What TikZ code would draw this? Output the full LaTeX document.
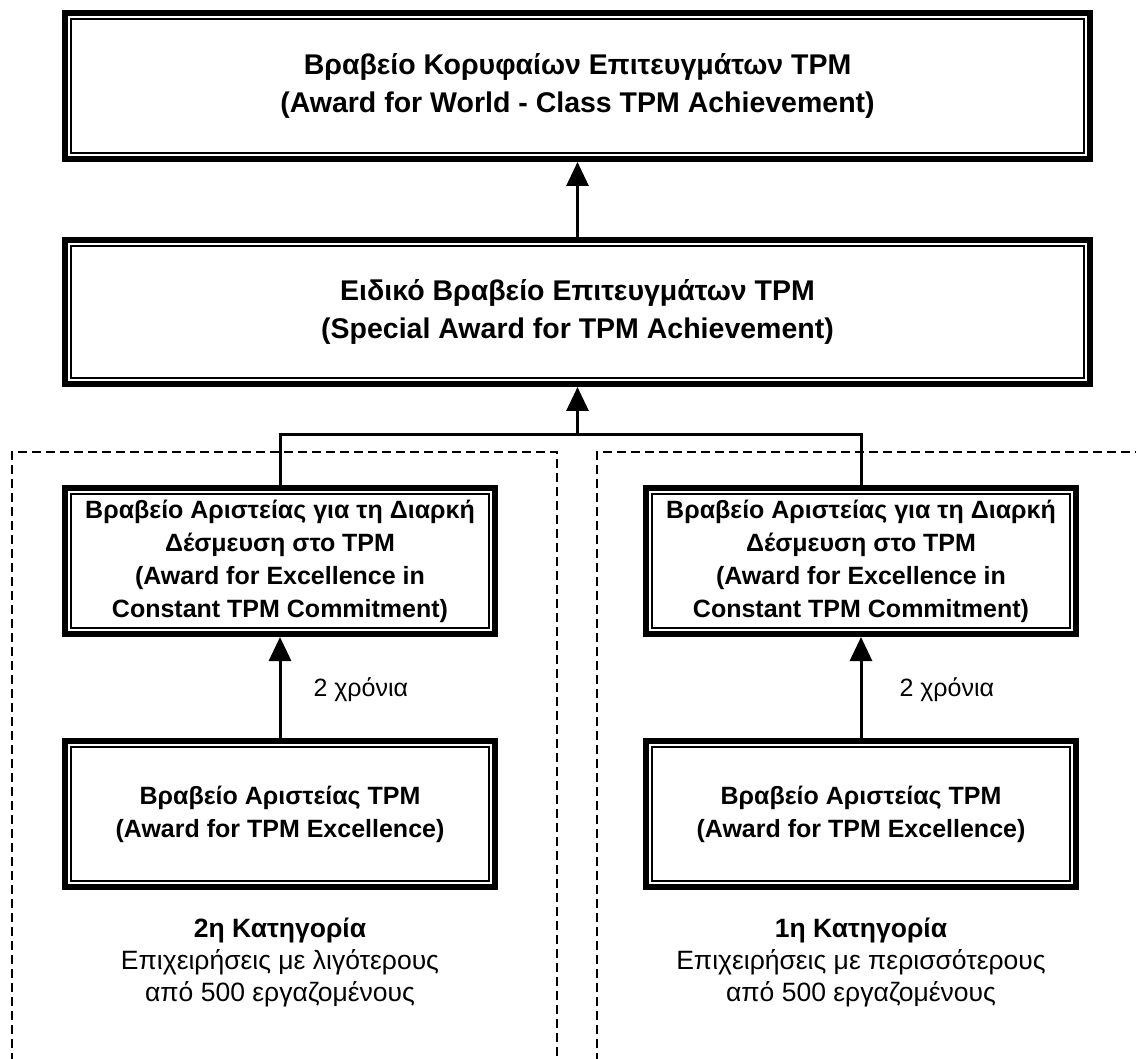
\documentclass[tikz,border=0pt]{standalone}
\usepackage{fontspec}
\setmainfont{Liberation Sans}
\usetikzlibrary{arrows.meta}
\begin{document}
\begin{tikzpicture}[x=1pt,y=-1pt,
  award/.style={draw, line width=6pt, inner sep=0pt, align=center,
    font=\bfseries\fontsize{25}{33}\selectfont,
    path picture={\draw[line width=1.2pt]
      ([shift={(6pt,-6pt)}]path picture bounding box.north west) rectangle
      ([shift={(-6pt,6pt)}]path picture bounding box.south east);}},
  bigaward/.style={award, font=\bfseries\fontsize{28.5}{38}\selectfont},
  conn/.style={line width=3pt},
  arr/.style={line width=3pt, -{Triangle[width=22pt,length=24pt]}},
  region/.style={line width=1.3pt, dash pattern=on 9pt off 5pt},
  lbl/.style={font=\fontsize{25}{30}\selectfont, anchor=west},
  cat/.style={align=center, font=\fontsize{26.5}{32}\selectfont}
]
\useasboundingbox (0,0) rectangle (1136,1059);
\fill[white] (0,0) rectangle (1136,1059);

% dashed category regions
\draw[region] (12,1062) -- (12,452) -- (557,452) -- (557,1062);
\draw[region] (597,1062) -- (597,452) -- (1140,452);

\node[bigaward, minimum width=1025pt, minimum height=146pt] (top) at (577.5,86)
  {Βραβείο Κορυφαίων Επιτευγμάτων TPM\\(Award for World - Class TPM Achievement)};
\node[bigaward, minimum width=1025pt, minimum height=144pt] (spec) at (577.5,312)
  {Ειδικό Βραβείο Επιτευγμάτων TPM\\(Special Award for TPM Achievement)};

\node[award, minimum width=430pt, minimum height=146pt] (cl) at (280,561)
  {Βραβείο Αριστείας για τη Διαρκή\\Δέσμευση στο TPM\\(Award for Excellence in\\Constant TPM Commitment)};
\node[award, minimum width=430pt, minimum height=146pt] (cr) at (861,561)
  {Βραβείο Αριστείας για τη Διαρκή\\Δέσμευση στο TPM\\(Award for Excellence in\\Constant TPM Commitment)};

\node[award, minimum width=430pt, minimum height=146pt] (el) at (280,814)
  {Βραβείο Αριστείας TPM\\(Award for TPM Excellence)};
\node[award, minimum width=430pt, minimum height=146pt] (er) at (861,814)
  {Βραβείο Αριστείας TPM\\(Award for TPM Excellence)};

\node[cat] (catl) at (280,962)
  {\textbf{2η Κατηγορία}\\Επιχειρήσεις με λιγότερους\\από 500 εργαζομένους};
\node[cat] (catr) at (861,962)
  {\textbf{1η Κατηγορία}\\Επιχειρήσεις με περισσότερους\\από 500 εργαζομένους};

% connectors
\draw[arr] (spec.north) -- (top.south);
\coordinate (join) at (577.5,434);
\draw[conn] (cl.north) |- (join) -| (cr.north);
\draw[arr] (join) -- (spec.south);

\draw[arr] (el.north) -- (cl.south);
\draw[arr] (er.north) -- (cr.south);
\node[lbl] (yl) at (310,690) {2 χρόνια};
\node[lbl] (yr) at (896,690) {2 χρόνια};
\end{tikzpicture}
\end{document}
